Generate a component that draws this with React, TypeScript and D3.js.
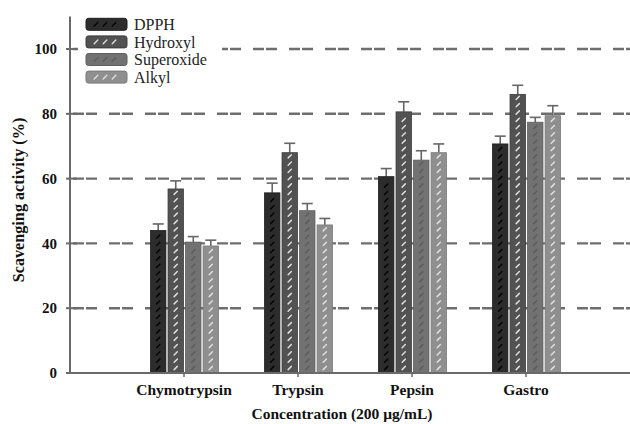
import React from "react";
import * as d3 from "d3";

const categories = ["Chymotrypsin", "Trypsin", "Pepsin", "Gastro"];
const seriesNames = ["DPPH", "Hydroxyl", "Superoxide", "Alkyl"];
const dpph = [44, 55.6, 60.6, 70.7];
const dpphErr = [2, 3, 2.5, 2.4];
const hydroxyl = [56.8, 68, 80.6, 86];
const hydroxylErr = [2.5, 2.9, 3.1, 2.8];
const superoxide = [40.4, 50.1, 65.7, 77.4];
const superoxideErr = [1.7, 2.2, 2.9, 1.5];
const alkyl = [39.2, 45.7, 68, 79.4];
const alkylErr = [1.8, 2, 2.7, 3.1];
const yTicks = [0, 20, 40, 60, 80, 100];

const fills = ["#2c2c2c", "#525252", "#727272", "#8f8f8f"];
const strokes = ["#1e1e1e", "#3c3c3c", "#5e5e5e", "#7a7a7a"];
const markColors = ["#050505", "#dcdcdc", "#5c5c5c", "#dedede"];

const W = 630;
const H = 424;
const font = "Liberation Serif, Times New Roman, serif";

export default function App() {
  const values = [dpph, hydroxyl, superoxide, alkyl];
  const errs = [dpphErr, hydroxylErr, superoxideErr, alkylErr];

  const axisX = 70;
  const y = d3.scaleLinear().domain([0, 110]).range([373, 16.6]);
  const x = d3
    .scalePoint<string>()
    .domain(["_s", ...categories, "_e"])
    .range([axisX, axisX + 5 * 114]);
  const inner = d3
    .scaleBand<string>()
    .domain(seriesNames)
    .range([-33.5, 34.5])
    .paddingInner(0.12)
    .paddingOuter(0);
  const bw = inner.bandwidth();
  const gridColor = "#6e6e6e";

  return (
    <svg
      width={W}
      height={H}
      style={{ position: "absolute", left: 0, top: 0, background: "#fff", fontFamily: font }}
    >
      {/* gridlines */}
      {yTicks
        .filter((t) => t > 0)
        .map((t) => (
          <line
            key={"g" + t}
            x1={axisX + 3}
            x2={W}
            y1={y(t)}
            y2={y(t)}
            stroke={gridColor}
            strokeWidth={2.4}
            strokeDasharray="11,2,11,12"
          />
        ))}
      {/* bars */}
      {categories.map((c, ci) => (
        <g key={c} transform={`translate(${x(c)},0)`}>
          {seriesNames.map((s, si) => {
            const v = values[si][ci];
            const e = errs[si][ci];
            const bx = inner(s)!;
            const cx = bx + bw / 2;
            const top = y(v);
            const marks = d3.range(y(0) - 5, top + 3, -7.3);
            return (
              <g key={s}>
                <line x1={cx} x2={cx} y1={top} y2={y(v + e)} stroke="#666" strokeWidth={1.6} />
                <line x1={cx - 5.5} x2={cx + 5.5} y1={y(v + e)} y2={y(v + e)} stroke="#666" strokeWidth={1.6} />
                <rect
                  x={bx}
                  y={top}
                  width={bw}
                  height={y(0) - top}
                  fill={fills[si]}
                  stroke={strokes[si]}
                  strokeWidth={0.8}
                />
                {marks.map((my, mi) => (
                  <line
                    key={mi}
                    x1={cx - 1.6}
                    x2={cx + 1.6}
                    y1={my + 1.6}
                    y2={my - 1.6}
                    stroke={markColors[si]}
                    strokeWidth={1.5}
                    strokeLinecap="round"
                  />
                ))}
              </g>
            );
          })}
        </g>
      ))}
      {/* axes */}
      <line x1={axisX} x2={axisX} y1={y(110)} y2={y(0) + 1} stroke="#6a6a6a" strokeWidth={2} />
      <line x1={axisX - 4} x2={W} y1={y(0)} y2={y(0)} stroke="#6a6a6a" strokeWidth={2} />
      {yTicks.map((t) => (
        <g key={"t" + t}>
          <line x1={axisX - 4} x2={axisX + 7} y1={y(t)} y2={y(t)} stroke="#6a6a6a" strokeWidth={2} />
          <text
            x={57}
            y={y(t)}
            dy="0.35em"
            textAnchor="end"
            fontWeight="bold"
            fontSize={15}
            fill="#111"
            fontFamily={font}
          >
            {t}
          </text>
        </g>
      ))}
      {categories.map((c) => (
        <g key={"x" + c}>
          <line x1={x(c)} x2={x(c)} y1={y(0)} y2={y(0) + 4} stroke="#6a6a6a" strokeWidth={1.5} />
          <text x={x(c)} y={395} textAnchor="middle" fontWeight="bold" fontSize={15.5} fill="#111" fontFamily={font}>
            {c}
          </text>
        </g>
      ))}
      <text x={342} y={419} textAnchor="middle" fontWeight="bold" fontSize={15.5} fill="#111" fontFamily={font}>
        Concentration (200 μg/mL)
      </text>
      <text
        transform={`translate(24,200) rotate(-90)`}
        textAnchor="middle"
        fontWeight="bold"
        fontSize={16.2}
        fill="#111"
        fontFamily={font}
      >
        Scavenging activity (%)
      </text>
      {/* legend */}
      <rect x={78} y={13} width={144} height={74} fill="#fff" />
      {seriesNames.map((s, si) => {
        const ly = 18.3 + si * 17.6;
        return (
          <g key={"l" + s}>
            <rect x={86} y={ly} width={41} height={12} rx={2.5} fill={fills[si]} stroke={strokes[si]} strokeWidth={1} />
            {d3.range(3).map((k) => (
              <line
                key={k}
                x1={96 + k * 9 - 1.8}
                x2={96 + k * 9 + 1.8}
                y1={ly + 6 + 1.8}
                y2={ly + 6 - 1.8}
                stroke={markColors[si]}
                strokeWidth={1.4}
                strokeLinecap="round"
              />
            ))}
            <text x={134} y={ly + 6} dy="0.35em" fontSize={16} fill="#222" fontFamily={font}>
              {s}
            </text>
          </g>
        );
      })}
    </svg>
  );
}
